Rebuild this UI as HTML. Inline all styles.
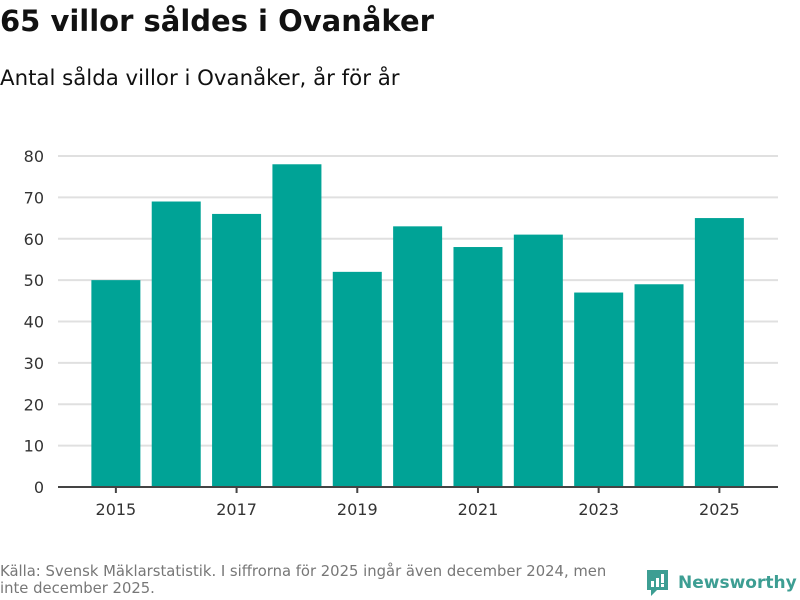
<!DOCTYPE html>
<html><head><meta charset="utf-8"><style>
body{margin:0;width:800px;height:600px;background:#fff;font-family:"DejaVu Sans","Liberation Sans",sans-serif;overflow:hidden;position:relative}
.t{position:absolute;left:0;top:4px;font-size:29px;font-weight:bold;color:#111;margin:0}
.s{position:absolute;left:0;top:66px;font-size:21.3px;color:#111}
.src{position:absolute;left:0;top:563px;font-size:14.8px;color:#777;line-height:17px;width:625px}
.logo{position:absolute;left:645px;top:568px;display:flex;align-items:center;gap:8px;color:#3d9e93;font-size:17px;font-weight:bold}
</style></head><body>
<h1 class="t">65 villor såldes i Ovanåker</h1>
<div class="s">Antal sålda villor i Ovanåker, år för år</div>
<svg id="c" width="800" height="600" style="position:absolute;left:0;top:0"></svg>
<div class="src">Källa: Svensk Mäklarstatistik. I siffrorna för 2025 ingår även december 2024, men inte december 2025.</div>
<div class="logo">
<svg width="25" height="30" viewBox="0 0 25 30"><path d="M2 2h21v20H12l-6 6v-6H2z" fill="#3d9e93"/><rect x="6" y="13" width="3" height="6" fill="#fff"/><rect x="11" y="10" width="3" height="9" fill="#fff"/><rect x="16" y="6" width="3" height="9" fill="#fff"/><rect x="16" y="16" width="3" height="3" fill="#fff"/></svg>
<span>Newsworthy</span></div>
<script>
const years=[2015,2016,2017,2018,2019,2020,2021,2022,2023,2024,2025];
const values=[50,69,66,78,52,63,58,61,47,49,65];
const yTicks=[0,10,20,30,40,50,60,70,80];
const svg=document.getElementById('c');
const NS='http://www.w3.org/2000/svg';
const y0=487,yTop=156,yMax=80,x0=86,step=60.35,bw=49;
const y=v=>y0-(v/yMax)*(y0-yTop);
const xc=i=>x0+step*i+step/2-0.3;
const FF='DejaVu Sans, Liberation Sans, sans-serif';
function el(t,a){const e=document.createElementNS(NS,t);for(const k in a)e.setAttribute(k,a[k]);svg.appendChild(e);return e;}
yTicks.forEach(v=>{
 if(v>0){const g=el('line',{x1:58,x2:778,y1:y(v),y2:y(v),stroke:'#e0e0e0','stroke-width':2});
 
 }
 const t=el('text',{x:44,y:y(v)+6,'text-anchor':'end','font-size':16,fill:'#333','font-family':FF});
 t.textContent=v;
 
 
});
values.forEach((v,i)=>{
 const r=el('rect',{x:xc(i)-bw/2,y:y(v),width:bw,height:y0-y(v),fill:'#00a396'});
 
 
 if(i%2===0){
  const tk=el('line',{x1:xc(i),x2:xc(i),y1:y0,y2:y0+6,stroke:'#444','stroke-width':2});
  
  
  const t=el('text',{x:xc(i),y:y0+28,'text-anchor':'middle','font-size':16,fill:'#333','font-family':FF});
  t.textContent=years[i];
  
  
 }
});
const ax=el('line',{x1:58,x2:778,y1:y0,y2:y0,stroke:'#444','stroke-width':2});


</script>
</body></html>
